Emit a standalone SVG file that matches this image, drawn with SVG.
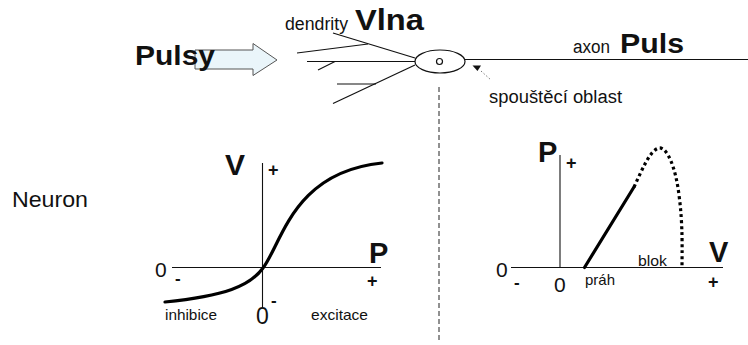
<svg xmlns="http://www.w3.org/2000/svg" width="748" height="345" viewBox="0 0 748 345">
<style>
text{font-family:"Liberation Sans",Arial,sans-serif;fill:#111}
.b{font-weight:bold}
.ln{stroke:#111;stroke-width:1.2;fill:none}
.ax{stroke:#111;stroke-width:1.1;fill:none}
.thick{stroke:#000;stroke-width:3.2;fill:none;stroke-linecap:round}
</style>
<rect width="748" height="345" fill="#fff"/>
<g id="input-arrow">
<path d="M195,50 H253 V43.5 L277,60 L253,75.5 V69 H195 Z" fill="#eaf5fa" stroke="#555" stroke-width="1"/>
<text class="b" x="135" y="65" font-size="28" textLength="80" lengthAdjust="spacingAndGlyphs">Pulsy</text>
</g>
<g id="neuron">
<g class="ln">
<line x1="333" y1="33" x2="415" y2="58"/>
<line x1="297" y1="53" x2="368" y2="44"/>
<line x1="307" y1="61.5" x2="415" y2="61.5"/>
<line x1="318" y1="70" x2="335" y2="61.5"/>
<line x1="333" y1="103.5" x2="415" y2="65"/>
<line x1="337" y1="84" x2="376" y2="84"/>
<ellipse cx="440" cy="61.5" rx="25" ry="11.5"/>
<circle cx="439.5" cy="61.5" r="3"/>
<line x1="465" y1="59.5" x2="748" y2="59.5"/>
</g>
<text x="285" y="30" font-size="18" textLength="63" lengthAdjust="spacingAndGlyphs">dendrity</text>
<text class="b" x="355" y="30" font-size="30" textLength="69" lengthAdjust="spacingAndGlyphs">Vlna</text>
<text x="573" y="53" font-size="18" textLength="37" lengthAdjust="spacingAndGlyphs">axon</text>
<text class="b" x="620" y="53" font-size="28" textLength="64" lengthAdjust="spacingAndGlyphs">Puls</text>
</g>
<g id="trigger-zone">
<polygon points="472.5,65.5 481,65.5 477.5,71" fill="#111"/>
<line x1="481" y1="71" x2="491" y2="80" stroke="#777" stroke-width="1" stroke-dasharray="1.5,2"/>
<text x="489" y="103" font-size="18" textLength="133" lengthAdjust="spacingAndGlyphs">spouštěcí oblast</text>
</g>
<g id="divider">
<line x1="439" y1="87" x2="439" y2="341" stroke="#222" stroke-width="1" stroke-dasharray="5,3"/>
</g>
<text x="12" y="207" font-size="22" textLength="76" lengthAdjust="spacingAndGlyphs">Neuron</text>
<g id="graph-sigmoid">
<line class="ax" x1="262.5" y1="163" x2="262.5" y2="307"/>
<line class="ax" x1="172" y1="267.5" x2="381" y2="267.5"/>
<path class="thick" d="M165,302 C225,296 250,286 263,268 C282,243 293,172 382,163"/>
<text class="b" x="225" y="175" font-size="30">V</text>
<text class="b" x="268" y="176" font-size="18">+</text>
<text x="155" y="277" font-size="21">0</text>
<text class="b" x="175" y="284" font-size="17">-</text>
<text class="b" x="369" y="263" font-size="29">P</text>
<text class="b" x="367" y="287" font-size="18">+</text>
<text class="b" x="271" y="306" font-size="17">-</text>
<text x="256" y="323.5" font-size="23">0</text>
<text x="165" y="320" font-size="15" textLength="52" lengthAdjust="spacingAndGlyphs">inhibice</text>
<text x="311" y="320" font-size="15" textLength="57" lengthAdjust="spacingAndGlyphs">excitace</text>
</g>
<g id="graph-threshold">
<line class="ax" x1="560" y1="155" x2="560" y2="268"/>
<line class="ax" x1="511" y1="267.5" x2="723" y2="267.5"/>
<line class="thick" x1="584.5" y1="267.5" x2="634" y2="187" stroke-linecap="butt"/>
<path d="M634,187 C642,170 650,150 659,148 C668,147 676,170 679,195 C683,225 682,250 682,267" fill="none" stroke="#000" stroke-width="3.2" stroke-dasharray="3,3"/>
<text class="b" x="538" y="162" font-size="29">P</text>
<text class="b" x="566" y="169" font-size="18">+</text>
<text class="b" x="709" y="262" font-size="29">V</text>
<text x="496" y="277" font-size="21">0</text>
<text class="b" x="514" y="288" font-size="17">-</text>
<text x="554" y="292" font-size="21">0</text>
<text x="585" y="285" font-size="15" textLength="30" lengthAdjust="spacingAndGlyphs">práh</text>
<text x="638" y="266" font-size="15.5" textLength="29" lengthAdjust="spacingAndGlyphs">blok</text>
<text class="b" x="708" y="288" font-size="18">+</text>
</g>
</svg>
